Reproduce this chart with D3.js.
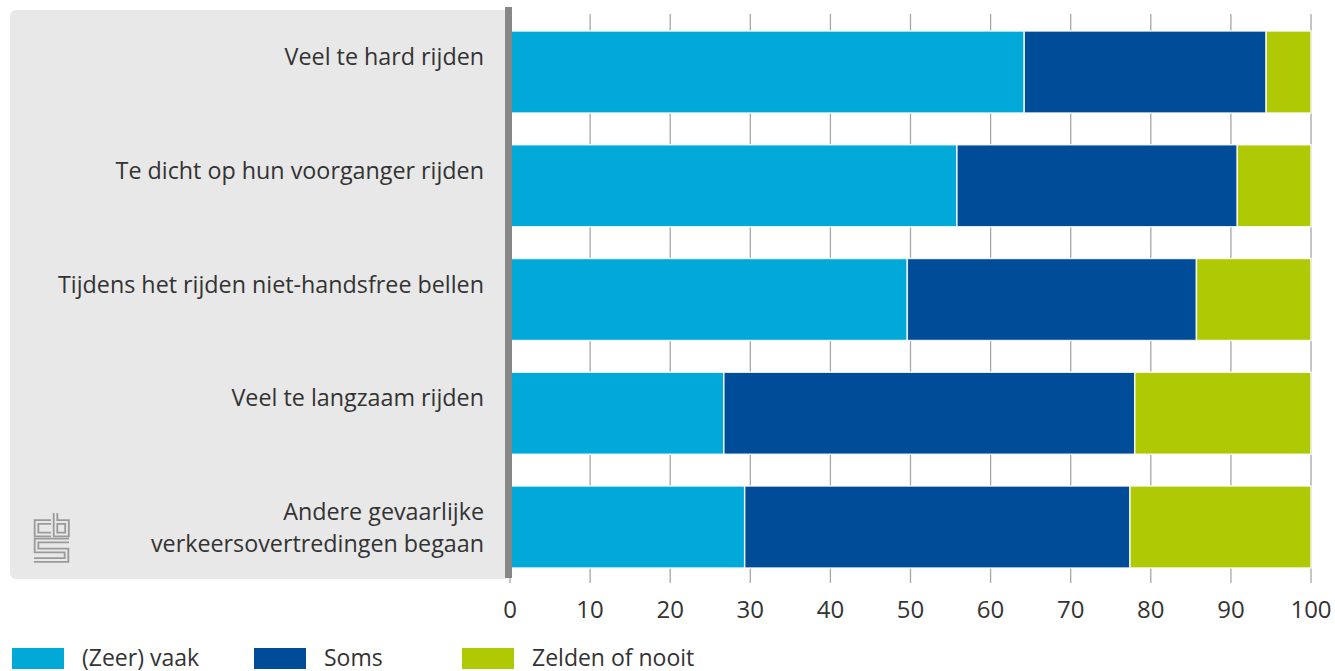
<!DOCTYPE html>
<html lang="nl">
<head>
<meta charset="utf-8">
<title>Verkeersovertredingen</title>
<script src="https://cdn.jsdelivr.net/npm/d3@7"></script>
<style>
  body { margin: 0; background: #fff; }
  text { font-family: "Open Sans", sans-serif; fill: #333; }
</style>
</head>
<body>
<script>
// data
var categories = [
  ["Veel te hard rijden"],
  ["Te dicht op hun voorganger rijden"],
  ["Tijdens het rijden niet-handsfree bellen"],
  ["Veel te langzaam rijden"],
  ["Andere gevaarlijke", "verkeersovertredingen begaan"]
];
var seriesNames = ["(Zeer) vaak", "Soms", "Zelden of nooit"];
var vaak   = [64.2, 55.8, 49.6, 26.7, 29.3];
var soms   = [30.2, 35.0, 36.1, 51.3, 48.1];
var zelden = [5.6, 9.2, 14.3, 22.0, 22.6];
var tickValues = [0, 10, 20, 30, 40, 50, 60, 70, 80, 90, 100];
var colors = ["#00a9d8", "#004c99", "#afca04"];

var W = 1335, H = 671;
var svg = d3.select("body").append("svg").attr("width", W).attr("height", H);

var x = d3.scaleLinear().domain([0, 100]).range([510, 1311]);
var y = d3.scaleBand().domain(d3.range(categories.length)).range([31, 568])
          .paddingInner(0.279).paddingOuter(0);

// grey label panel
svg.append("rect").attr("x", 10).attr("y", 10).attr("width", 500).attr("height", 569)
   .attr("rx", 6).attr("fill", "#e8e8e8");

// grid ticks (visible between bars)
svg.append("g").selectAll("line").data(tickValues.slice(1)).enter().append("line")
   .attr("x1", function(d){ return x(d); }).attr("x2", function(d){ return x(d); })
   .attr("y1", 14).attr("y2", 583)
   .attr("stroke", "#a6a6a6").attr("stroke-width", 1.3);
svg.append("line").attr("x1", x(0)).attr("x2", x(0)).attr("y1", 570).attr("y2", 583)
   .attr("stroke", "#a6a6a6").attr("stroke-width", 1.3);

// stacked bars
var rows = categories.map(function(c, i){
  return { i: i, vaak: vaak[i], soms: soms[i], zelden: zelden[i] };
});
var stack = d3.stack().keys(["vaak", "soms", "zelden"]);
var layers = stack(rows);

svg.append("g").selectAll("g").data(layers).enter().append("g")
   .attr("fill", function(d, k){ return colors[k]; })
   .selectAll("rect").data(function(d){ return d; }).enter().append("rect")
   .attr("x", function(d){ return x(d[0]); })
   .attr("width", function(d){ return x(d[1]) - x(d[0]); })
   .attr("y", function(d){ return y(d.data.i); })
   .attr("height", y.bandwidth())
   .attr("stroke", "#fff").attr("stroke-width", 1.5).attr("stroke-opacity", 0.85);

// axis bar at zero
svg.append("rect").attr("x", 505).attr("y", 7).attr("width", 7).attr("height", 571)
   .attr("fill", "#878787");

// category labels
var lab = svg.append("g").selectAll("text").data(categories).enter().append("text")
   .attr("text-anchor", "end")
   .attr("font-size", 23.3);
lab.each(function(lines, i){
  var cy = y(i) + y.bandwidth() / 2;
  var t = d3.select(this);
  var lh = 32;
  var top = lines.length === 1 ? cy - 15 : cy - lh / 2 + 1;
  lines.forEach(function(s, j){
    t.append("tspan").attr("x", 484).attr("y", top + j * lh).attr("dy", "0.35em").text(s);
  });
});

// tick labels
svg.append("g").selectAll("text").data(tickValues).enter().append("text")
   .attr("x", function(d){ return x(d); }).attr("y", 618)
   .attr("text-anchor", "middle").attr("font-size", 24)
   .text(function(d){ return d; });

// legend
var legX = [12, 254, 462];
var leg = svg.append("g").selectAll("g").data(seriesNames).enter().append("g")
   .attr("transform", function(d, k){ return "translate(" + legX[k] + ",648)"; });
leg.append("rect").attr("width", 52).attr("height", 21)
   .attr("fill", function(d, k){ return colors[k]; });
leg.append("text").attr("x", 70).attr("y", 18).attr("font-size", 23)
   .text(function(d){ return d; });

// cbs logo
var logo = svg.append("g").attr("transform", "translate(34,512)")
   .attr("fill", "none").attr("stroke-linejoin", "miter");
var logoPaths = [
  "M17,10 H2.5 V22.5 H17",
  "M21.5,1 V22.5 H33 V10 H21.5",
  "M35,28.5 H2.5 V38.5 H32.5 V48 H0"
];
logo.selectAll("path.o").data(logoPaths).enter().append("path")
   .attr("d", function(d){ return d; }).attr("stroke", "#9a9a9a").attr("stroke-width", 5.5);
logo.selectAll("path.i").data(logoPaths).enter().append("path")
   .attr("d", function(d){ return d; }).attr("stroke", "#e8e8e8").attr("stroke-width", 1.8);
</script>
</body>
</html>
